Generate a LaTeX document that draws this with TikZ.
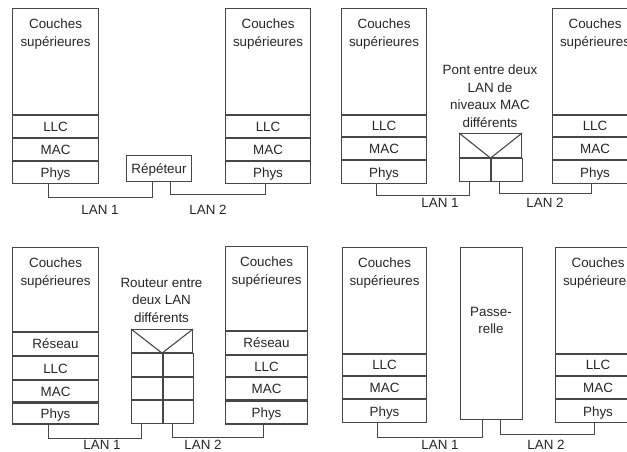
\documentclass[tikz,border=0pt]{standalone}
\usepackage{fontspec}
\setmainfont{Liberation Sans}
\definecolor{linec}{HTML}{474747}
\definecolor{textc}{HTML}{262626}
\tikzset{
  lab/.style={font=\fontsize{13.4}{17.5}\selectfont, text=textc},
  box/.style={draw=linec, line width=1.1pt, inner sep=0pt, anchor=north west,
              lab, text height=9.5pt, text depth=0pt},
  wire/.style={draw=linec, line width=1.1pt},
  caption/.style={lab, align=center, inner sep=0pt, anchor=north},
}
\begin{document}
\begin{tikzpicture}[x=1pt,y=-1pt]
\useasboundingbox (0,0) rectangle (627,452);
\clip (0,0) rectangle (627,452);

% ---------- Repeater ----------
\node[box, minimum width=86pt, minimum height=106pt] (s1u) at (12,8) {};
\node[caption] (s1t) at ([yshift=-11pt]s1u.north) {Couches\\supérieures};
\node[box, minimum width=86pt, minimum height=22pt] (s1l) at (s1u.south west) {LLC};
\node[box, minimum width=86pt, minimum height=22pt] (s1m) at (s1l.south west) {MAC};
\node[box, minimum width=86pt, minimum height=22pt] (s1p) at (s1m.south west) {Phys};

\node[box, minimum width=85pt, minimum height=106pt] (s2u) at (225,8) {};
\node[caption] (s2t) at ([yshift=-11pt]s2u.north) {Couches\\supérieures};
\node[box, minimum width=85pt, minimum height=22pt] (s2l) at (s2u.south west) {LLC};
\node[box, minimum width=85pt, minimum height=22pt] (s2m) at (s2l.south west) {MAC};
\node[box, minimum width=85pt, minimum height=22pt] (s2p) at (s2m.south west) {Phys};

\node[box, minimum width=65pt, minimum height=26pt] (rep) at (126,155) {Répéteur};

\draw[wire] ([xshift=-7pt]s1p.south) -- ++(0,13) -| ([xshift=-6.5pt]rep.south);
\draw[wire] ([xshift=11.5pt]rep.south) -- ++(0,12) -| ([xshift=-2.5pt]s2p.south);
\node[lab] (lan1a) at (100,210) {LAN 1};
\node[lab] (lan2a) at (208,210) {LAN 2};

% ---------- Bridge ----------
\node[box, minimum width=85pt, minimum height=106pt] (s3u) at (341,8) {};
\node[caption] (s3t) at ([yshift=-11pt]s3u.north) {Couches\\supérieures};
\node[box, minimum width=85pt, minimum height=21pt] (s3l) at (s3u.south west) {LLC};
\node[box, minimum width=85pt, minimum height=22pt] (s3m) at (s3l.south west) {MAC};
\node[box, minimum width=85pt, minimum height=23pt] (s3p) at (s3m.south west) {Phys};

\node[box, minimum width=85pt, minimum height=106pt] (s4u) at (552,8) {};
\node[caption] (s4t) at ([yshift=-11pt]s4u.north) {Couches\\supérieures};
\node[box, minimum width=85pt, minimum height=21pt] (s4l) at (s4u.south west) {LLC};
\node[box, minimum width=85pt, minimum height=22pt] (s4m) at (s4l.south west) {MAC};
\node[box, minimum width=85pt, minimum height=23pt] (s4p) at (s4m.south west) {Phys};

\node[box, minimum width=62pt, minimum height=24pt] (brt) at (459,133) {};
\node[box, minimum width=31pt, minimum height=23pt] (brl) at (brt.south west) {};
\node[box, minimum width=31pt, minimum height=23pt] (brr) at (brl.north east) {};
\draw[wire] (brt.north west) -- (brt.south) -- (brt.north east);
\node[caption] (brc) at (490,65) {Pont entre deux\\LAN de\\niveaux MAC\\différents};

\draw[wire] ([xshift=-7.5pt]s3p.south) -- ++(0,11) -| ([xshift=-5.5pt]brl.south);
\draw[wire] ([xshift=-7.5pt]brr.south) -- ++(0,11) -| ([xshift=-3.5pt]s4p.south);
\node[lab] (lan1b) at (440,203) {LAN 1};
\node[lab] (lan2b) at (545,203) {LAN 2};

% ---------- Router ----------
\node[box, minimum width=86pt, minimum height=84pt] (s5u) at (12,247) {};
\node[caption] (s5t) at ([yshift=-11pt]s5u.north) {Couches\\supérieures};
\node[box, minimum width=86pt, minimum height=23pt] (s5r) at (s5u.south west) {Réseau};
\node[box, minimum width=86pt, minimum height=23pt] (s5l) at (s5r.south west) {LLC};
\node[box, minimum width=86pt, minimum height=21pt] (s5m) at (s5l.south west) {MAC};
\node[box, minimum width=86pt, minimum height=21pt] (s5p) at (s5m.south west) {Phys};

\node[box, minimum width=82pt, minimum height=84pt] (s6u) at (225,246) {};
\node[caption] (s6t) at ([yshift=-11pt]s6u.north) {Couches\\supérieures};
\node[box, minimum width=82pt, minimum height=23pt] (s6r) at (s6u.south west) {Réseau};
\node[box, minimum width=82pt, minimum height=21pt] (s6l) at (s6r.south west) {LLC};
\node[box, minimum width=82pt, minimum height=22pt] (s6m) at (s6l.south west) {MAC};
\node[box, minimum width=82pt, minimum height=23pt] (s6p) at (s6m.south west) {Phys};

\node[box, minimum width=61pt, minimum height=23pt] (rtt) at (131,329) {};
\node[box, minimum width=30.5pt, minimum height=23pt] (rl1) at (rtt.south west) {};
\node[box, minimum width=30.5pt, minimum height=22pt] (rl2) at (rl1.south west) {};
\node[box, minimum width=30.5pt, minimum height=23pt] (rl3) at (rl2.south west) {};
\node[box, minimum width=30.5pt, minimum height=23pt] (rr1) at (rl1.north east) {};
\node[box, minimum width=30.5pt, minimum height=22pt] (rr2) at (rr1.south west) {};
\node[box, minimum width=30.5pt, minimum height=23pt] (rr3) at (rr2.south west) {};
\draw[wire] (rtt.north west) -- (rtt.south) -- (rtt.north east);
\node[caption] (rtc) at (161.5,278) {Routeur entre\\deux LAN\\différents};

\draw[wire] ([xshift=-7pt]s5p.south) -- ++(0,14) -| ([xshift=-5.5pt]rl3.south);
\draw[wire] ([xshift=-6pt]rr3.south) -- ++(0,13) -| ([xshift=-3pt]s6p.south);
\node[lab] (lan1c) at (102,445) {LAN 1};
\node[lab] (lan2c) at (203,445) {LAN 2};

% ---------- Gateway ----------
\node[box, minimum width=84pt, minimum height=106pt] (s7u) at (342,247) {};
\node[caption] (s7t) at ([yshift=-11pt]s7u.north) {Couches\\supérieures};
\node[box, minimum width=84pt, minimum height=21pt] (s7l) at (s7u.south west) {LLC};
\node[box, minimum width=84pt, minimum height=22pt] (s7m) at (s7l.south west) {MAC};
\node[box, minimum width=84pt, minimum height=23pt] (s7p) at (s7m.south west) {Phys};

\node[box, minimum width=85pt, minimum height=106pt] (s8u) at (555,247) {};
\node[caption] (s8t) at ([yshift=-11pt]s8u.north) {Couches\\supérieures};
\node[box, minimum width=85pt, minimum height=21pt] (s8l) at (s8u.south west) {LLC};
\node[box, minimum width=85pt, minimum height=22pt] (s8m) at (s8l.south west) {MAC};
\node[box, minimum width=85pt, minimum height=23pt] (s8p) at (s8m.south west) {Phys};

\node[box, minimum width=62pt, minimum height=172pt] (gw) at (460,247) {};
\node[caption] (gwt) at (491,307) {Passe-\\relle};

\draw[wire] ([xshift=-7pt]s7p.south) -- ++(0,14) -| ([xshift=-9pt]gw.south);
\draw[wire] ([xshift=9pt]gw.south) -- ++(0,14) -| ([xshift=-3.5pt]s8p.south);
\node[lab] (lan1d) at (440,445) {LAN 1};
\node[lab] (lan2d) at (546,445) {LAN 2};
\end{tikzpicture}
\end{document}
